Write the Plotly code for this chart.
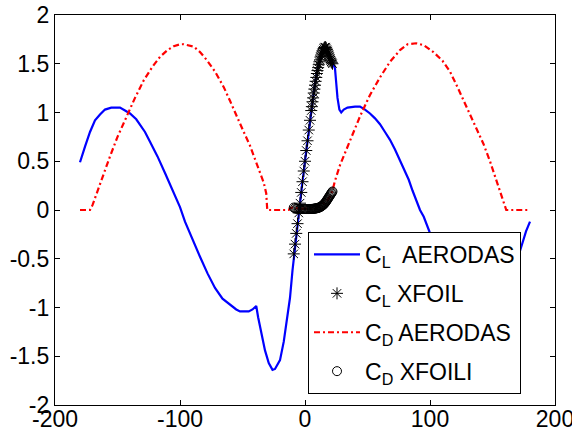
import plotly.graph_objects as go

# Lift coefficient, AERODAS model (full -180..180 deg sweep)
alpha_cl_aerodas = [-180, -178, -176, -172, -168, -164, -160, -155, -148, -144, -140, -135,
                    -131, -128, -124, -118, -112, -106, -100, -96, -90, -84, -78, -72, -66,
                    -60, -55, -52, -45, -42, -39, -37.5, -35, -32, -29, -26, -24, -20, -17,
                    -14.5, -12, -10, -8, -6, -4, -2, 0, 2, 4, 6, 8, 10, 12, 14, 16, 17, 18,
                    20, 22, 24, 25, 26, 27.5, 29, 31, 34, 40, 44, 48, 52, 56, 60, 64, 68,
                    72, 76, 80, 83, 86, 89, 92, 95, 99.5, 105, 115, 125, 135, 145, 155, 165,
                    172, 176.8, 180]
cl_aerodas = [0.49, 0.58, 0.65, 0.80, 0.92, 0.98, 1.03, 1.05, 1.05, 1.02, 0.99, 0.93,
              0.86, 0.80, 0.70, 0.55, 0.38, 0.20, 0.03, -0.12, -0.31, -0.48, -0.65, -0.80, -0.91,
              -0.97, -1.02, -1.04, -1.04, -1.02, -0.985, -1.10, -1.25, -1.44, -1.57, -1.64, -1.63, -1.54, -1.35,
              -1.13, -0.90, -0.62, -0.38, -0.15, 0.07, 0.29, 0.50, 0.71, 0.92, 1.11, 1.30, 1.45, 1.55, 1.62, 1.66, 1.66, 1.64,
              1.58, 1.52, 1.45, 1.30, 1.15, 1.03, 1.00, 1.03, 1.05, 1.06, 1.06, 1.03, 0.99, 0.94, 0.88, 0.80, 0.72,
              0.62, 0.51, 0.40, 0.31, 0.20, 0.10, 0.00, -0.07, -0.22, -0.35, -0.55, -0.72, -0.82, -0.85, -0.78, -0.60,
              -0.42, -0.22, -0.12]

# Lift coefficient, XFOIL
alpha_xfoil = [-9, -8, -7, -6, -5, -4, -3, -2, -1, 0, 1, 2, 3, 4, 5, 5.5, 6, 6.5, 7, 7.5, 8,
               8.5, 9, 9.5, 10, 10.5, 11, 11.5, 12, 12.5, 13, 13.5, 14, 14.5, 15, 15.5, 16,
               16.5, 17, 17.5, 18, 18.5, 19, 19.5, 20, 20.5, 21, 21.5, 22]
cl_xfoil = [-0.45, -0.35, -0.24, -0.14, -0.03, 0.07, 0.18, 0.29, 0.40, 0.50, 0.61, 0.71, 0.82,
            0.92, 1.02, 1.06, 1.11, 1.15, 1.20, 1.24, 1.28, 1.32, 1.36, 1.40, 1.43, 1.46, 1.49,
            1.52, 1.54, 1.57, 1.59, 1.61, 1.63, 1.64, 1.655, 1.665, 1.67, 1.67, 1.66, 1.645,
            1.63, 1.61, 1.59, 1.57, 1.55, 1.535, 1.52, 1.51, 1.50]

# Drag coefficient, AERODAS model
alpha_cd_aerodas = [-180, -172, -170, -166.7, -161, -156, -150, -142.7, -136, -129, -122, -116,
                    -110, -105, -100, -97, -93, -89, -84, -78.7, -72, -65, -60, -54.7, -49,
                    -44, -40, -37, -33, -31, -30.2, -20, -13, -12, -10, -5, 0, 5, 10, 14, 17,
                    19, 20, 22, 24, 28, 36, 44, 52, 60, 68, 76, 82, 89, 95, 102.7, 110, 116,
                    122, 129, 136, 142.7, 148, 153, 157, 161, 170, 178.7]
cd_aerodas = [0.0, 0.0, 0.05, 0.17, 0.36, 0.55, 0.75, 0.96, 1.15, 1.33, 1.47, 1.57,
              1.64, 1.68, 1.70, 1.70, 1.69, 1.675, 1.62, 1.54, 1.42, 1.26, 1.12, 0.96, 0.80,
              0.66, 0.52, 0.42, 0.28, 0.17, 0.0, 0.0, 0.0, 0.02, 0.025, 0.015, 0.012, 0.015, 0.03, 0.06, 0.09,
              0.12, 0.14, 0.20, 0.30, 0.46, 0.72, 0.96, 1.18, 1.36, 1.52, 1.64, 1.70, 1.71, 1.69, 1.62, 1.53, 1.42,
              1.26, 1.06, 0.87, 0.68, 0.50, 0.31, 0.15, 0.0, 0.0, 0.0]

# Drag coefficient, XFOIL (same angles as the lift sweep)
cd_xfoil = [0.025, 0.018, 0.014, 0.012, 0.011, 0.010, 0.010, 0.010, 0.010, 0.010, 0.010, 0.010,
            0.010, 0.010, 0.011, 0.011, 0.012, 0.012, 0.013, 0.014, 0.015, 0.016, 0.017, 0.018,
            0.020, 0.022, 0.024, 0.027, 0.030, 0.033, 0.037, 0.041, 0.046, 0.052, 0.058, 0.065,
            0.072, 0.081, 0.090, 0.100, 0.110, 0.120, 0.130, 0.140, 0.150, 0.160, 0.170, 0.180,
            0.190]

x_tick_vals = [-200, -100, 0, 100, 200]
x_tick_text = ["-200", "-100", "0", "100", "200"]
y_tick_vals = [-2, -1.5, -1, -0.5, 0, 0.5, 1, 1.5, 2]
y_tick_text = ["-2", "-1.5", "-1", "-0.5", "0", "0.5", "1", "1.5", "2"]

font_family = "Liberation Sans, Arial, Helvetica, sans-serif"
font_size = 23

fig = go.Figure()

fig.add_trace(go.Scatter(
    x=alpha_cl_aerodas, y=cl_aerodas, mode="lines",
    line=dict(color="#0000ff", width=2.2),
    name="C<sub>L</sub>\u00a0 AERODAS", legendgroup="g1",
))
fig.add_trace(go.Scatter(
    x=alpha_xfoil, y=cl_xfoil, mode="markers",
    marker=dict(symbol="asterisk-open", size=10, color="black",
                line=dict(color="black", width=1)),
    name="C<sub>L</sub> XFOIL", legendgroup="g2",
))
fig.add_trace(go.Scatter(
    x=alpha_cd_aerodas, y=cd_aerodas, mode="lines",
    line=dict(color="#ff0000", width=2.2, dash="6px,3px,2px,3px"),
    name="C<sub>D</sub> AERODAS", legendgroup="g3",
))
fig.add_trace(go.Scatter(
    x=alpha_xfoil, y=cd_xfoil, mode="markers",
    marker=dict(symbol="circle-open", size=9, color="black",
                line=dict(color="black", width=1)),
    name="C<sub>D</sub> XFOILI", legendgroup="g4",
))

axis_common = dict(
    showgrid=False, zeroline=False, automargin=False,
    showline=True, linecolor="black", linewidth=1.2,
    mirror="ticks", ticks="inside", ticklen=5, tickcolor="black",
    tickfont=dict(family=font_family, size=font_size, color="black"),
    ticklabeloverflow="allow",
)

fig.update_layout(
    width=572, height=435,
    margin=dict(l=55, r=17, t=15, b=30),
    paper_bgcolor="white", plot_bgcolor="white",
    font=dict(family=font_family, size=font_size, color="black"),
    xaxis=dict(range=[-200, 200], tickvals=x_tick_vals, ticktext=x_tick_text,
               ticklabelstandoff=-7, **axis_common),
    yaxis=dict(range=[-2, 2], tickvals=y_tick_vals, ticktext=y_tick_text, **axis_common),
    legend=dict(
        x=0.506, y=0.4436, xanchor="left", yanchor="top",
        bgcolor="white", bordercolor="black", borderwidth=1,
        font=dict(family=font_family, size=font_size, color="black"),
        itemwidth=46, tracegroupgap=6, traceorder="grouped",
    ),
    showlegend=True,
)

fig.write_html("out.html")
